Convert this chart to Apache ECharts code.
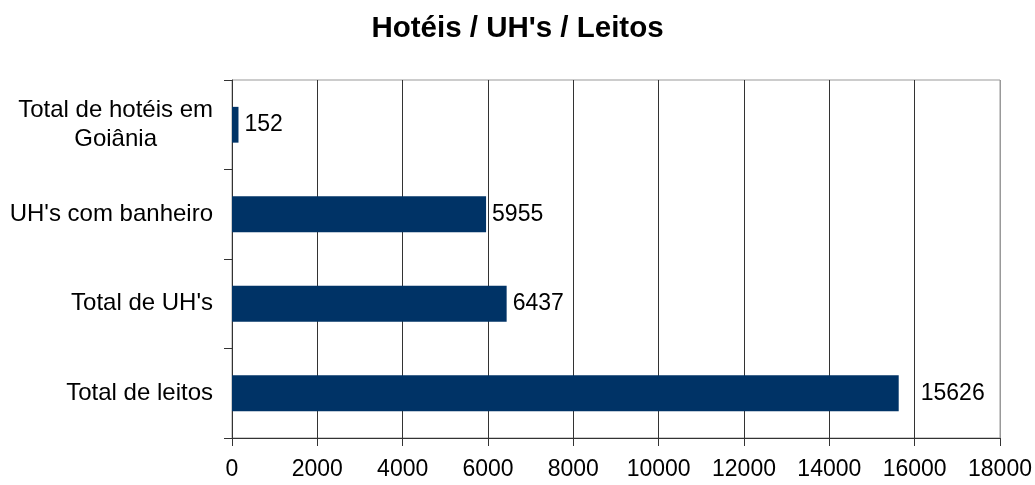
<!DOCTYPE html>
<html>
<head>
    <title>Hotéis / UH's / Leitos</title>
    <meta charset="utf-8">
    <script src="https://cdn.jsdelivr.net/npm/echarts@6/dist/echarts.min.js"></script>
    <style>
        body { margin: 0; background: #fff; }
        #main { width: 1035px; height: 485px; }
    </style>
</head>
<body>
    <div id="main"></div>
    <script type="text/javascript">
        // data
        var categories = ['Total de hotéis em Goiânia', "UH's com banheiro", "Total de UH's", 'Total de leitos'];
        var values = [152, 5955, 6437, 15626];
        var xTicks = { min: 0, max: 18000, interval: 2000 };

        var myChart = echarts.init(document.getElementById('main'));
        var font = "'Liberation Sans', Arial, sans-serif";

        // last vertical grid line is the grey frame
        var gridColors = [];
        for (var i = 0; i < 9; i++) gridColors.push('#333');
        gridColors.push('#999');

        // the big bar's label sits a bit further out in the original
        var barData = values.map(function (v, i) {
            if (i === values.length - 1) {
                return { value: v, label: { distance: 22 } };
            }
            return v;
        });

        var option = {
            animation: false,
            title: {
                text: "Hotéis / UH's / Leitos",
                left: 'center',
                top: 9,
                textStyle: { fontFamily: font, fontSize: 29.5, fontWeight: 'bold', color: '#000' }
            },
            grid: {
                left: 232, right: 35, top: 80, bottom: 47,
                show: true, borderColor: '#999', borderWidth: 1
            },
            xAxis: {
                type: 'value',
                min: xTicks.min,
                max: xTicks.max,
                interval: xTicks.interval,
                axisLine: { show: true, lineStyle: { color: '#333' } },
                axisTick: { show: true, length: 8, lineStyle: { color: '#333' } },
                axisLabel: {
                    margin: 20,
                    fontFamily: font,
                    fontSize: 23,
                    color: '#000',
                    formatter: function (v) { return String(v); }
                },
                splitLine: { show: true, lineStyle: { color: gridColors } }
            },
            yAxis: {
                type: 'category',
                inverse: true,
                data: categories,
                axisLine: { show: true, lineStyle: { color: '#333' } },
                axisTick: { show: true, length: 8, lineStyle: { color: '#333' } },
                axisLabel: {
                    margin: 19,
                    fontFamily: font,
                    fontSize: 24,
                    color: '#000',
                    formatter: function (v) {
                        if (v === categories[0]) {
                            return '{c|Total de hotéis em}\n{c|Goiânia}';
                        }
                        return v;
                    },
                    rich: {
                        c: { align: 'center', fontFamily: font, fontSize: 24, color: '#000', lineHeight: 29 }
                    }
                }
            },
            series: [{
                type: 'bar',
                data: barData,
                barWidth: '40%',
                itemStyle: { color: '#003366' },
                label: {
                    show: true,
                    position: 'right',
                    distance: 6,
                    fontFamily: font,
                    fontSize: 23,
                    color: '#000'
                }
            }]
        };

        myChart.setOption(option);
    </script>
</body>
</html>
